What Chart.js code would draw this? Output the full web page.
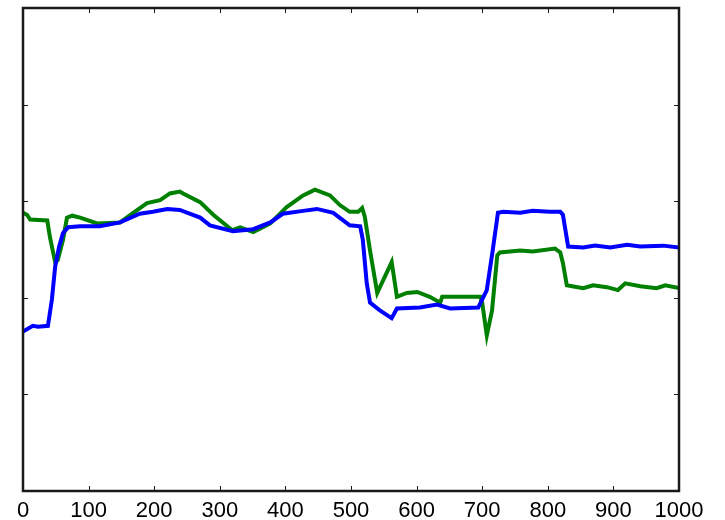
<!DOCTYPE html>
<html>
<head>
<meta charset="utf-8">
<script src="https://cdn.jsdelivr.net/npm/chart.js@4"></script>
<style>
  html, body { margin: 0; padding: 0; background: #fff; }
  #wrap { width: 725px; height: 520px; }
</style>
</head>
<body>
<div id="wrap"><canvas id="chart"></canvas></div>
<script>
// Series (x from 0 to 1000, y in plain units 0..5)
const blueX = [0, 15, 23, 38, 44, 49, 55, 61, 69, 87, 117, 148, 178, 198, 220, 239, 270, 285, 320, 351, 377, 396, 427, 448, 473, 498, 514, 518, 524, 529, 544, 562, 570, 605, 631, 651, 694, 707, 716, 724, 732, 758, 777, 803, 819, 823, 831, 854, 872, 895, 921, 941, 976, 1000];
const blueY = [1.65, 1.71, 1.70, 1.71, 1.98, 2.32, 2.53, 2.67, 2.73, 2.74, 2.74, 2.78, 2.87, 2.89, 2.92, 2.91, 2.83, 2.75, 2.69, 2.71, 2.78, 2.87, 2.90, 2.92, 2.88, 2.75, 2.74, 2.60, 2.15, 1.95, 1.87, 1.79, 1.89, 1.90, 1.93, 1.89, 1.90, 2.08, 2.49, 2.88, 2.89, 2.88, 2.90, 2.89, 2.89, 2.86, 2.53, 2.52, 2.54, 2.52, 2.55, 2.53, 2.54, 2.52];

const greenX = [0, 6, 11, 37, 41, 49, 53, 61, 67, 75, 87, 113, 148, 168, 189, 209, 224, 239, 244, 270, 290, 319, 331, 351, 377, 402, 427, 445, 468, 483, 498, 511, 517, 521, 529, 540, 562, 570, 585, 601, 620, 636, 639, 662, 697, 700, 707, 715, 723, 727, 758, 777, 811, 819, 823, 829, 837, 854, 869, 890, 907, 918, 941, 966, 979, 1000];
const greenY = [2.88, 2.86, 2.81, 2.80, 2.63, 2.37, 2.39, 2.60, 2.83, 2.85, 2.83, 2.77, 2.78, 2.88, 2.98, 3.01, 3.08, 3.10, 3.08, 2.99, 2.86, 2.70, 2.73, 2.68, 2.77, 2.94, 3.06, 3.12, 3.06, 2.96, 2.89, 2.89, 2.93, 2.84, 2.49, 2.05, 2.37, 2.01, 2.05, 2.06, 2.01, 1.95, 2.01, 2.01, 2.01, 1.95, 1.61, 1.87, 2.44, 2.47, 2.49, 2.48, 2.51, 2.47, 2.36, 2.13, 2.12, 2.10, 2.13, 2.11, 2.08, 2.15, 2.12, 2.10, 2.13, 2.10];

const xTicks = [0, 100, 200, 300, 400, 500, 600, 700, 800, 900, 1000];
const yTicks = [0, 1, 2, 3, 4, 5];

function toPoints(xs, ys) {
  return xs.map((x, i) => ({ x: x, y: ys[i] }));
}

// Box round the plot and short inward ticks on all four sides
const boxPlugin = {
  id: "box",
  afterDraw(chart) {
    const { ctx, chartArea: a, scales } = chart;
    ctx.save();
    ctx.strokeStyle = "#1a1a1a";
    ctx.lineWidth = 1;
    const len = 5;
    ctx.beginPath();
    xTicks.forEach((v) => {
      const px = Math.round(scales.x.getPixelForValue(v)) + 0.5;
      ctx.moveTo(px, a.bottom);
      ctx.lineTo(px, a.bottom - len);
      ctx.moveTo(px, a.top);
      ctx.lineTo(px, a.top + len);
    });
    yTicks.forEach((v) => {
      const py = Math.round(scales.y.getPixelForValue(v)) + 0.5;
      ctx.moveTo(a.left, py);
      ctx.lineTo(a.left + len, py);
      ctx.moveTo(a.right, py);
      ctx.lineTo(a.right - len, py);
    });
    ctx.stroke();
    ctx.lineWidth = 2.5;
    ctx.strokeRect(a.left, a.top, a.right - a.left, a.bottom - a.top);
    ctx.restore();
  },
};

new Chart(document.getElementById("chart").getContext("2d"), {
  type: "scatter",
  data: {
    datasets: [
      {
        data: toPoints(blueX, blueY),
        showLine: true,
        borderColor: "#0000ff",
        borderWidth: 4,
        pointRadius: 0,
        tension: 0,
      },
      {
        data: toPoints(greenX, greenY),
        showLine: true,
        borderColor: "#008000",
        borderWidth: 4,
        pointRadius: 0,
        tension: 0,
      },
    ],
  },
  options: {
    responsive: true,
    maintainAspectRatio: false,
    animation: false,
    layout: { padding: { left: 0, right: 46, top: 8, bottom: 0 } },
    plugins: {
      legend: { display: false },
      tooltip: { enabled: false },
    },
    scales: {
      x: {
        type: "linear",
        min: 0,
        max: 1000,
        afterFit(scale) { scale.height = 29; },
        afterBuildTicks(scale) { scale.ticks = xTicks.map((v) => ({ value: v })); },
        grid: { display: false, drawTicks: false },
        border: { display: false },
        ticks: {
          padding: 7,
          color: "#000",
          maxRotation: 0,
          autoSkip: false,
          callback: (v) => String(v),
          font: { family: "'Liberation Sans', Arial, sans-serif", size: 22 },
        },
      },
      y: {
        type: "linear",
        min: 0,
        max: 5,
        afterFit(scale) { scale.width = 23; },
        afterBuildTicks(scale) { scale.ticks = yTicks.map((v) => ({ value: v })); },
        grid: { display: false, drawTicks: false },
        border: { display: false },
        ticks: { display: false },
      },
    },
  },
  plugins: [boxPlugin],
});
</script>
</body>
</html>
